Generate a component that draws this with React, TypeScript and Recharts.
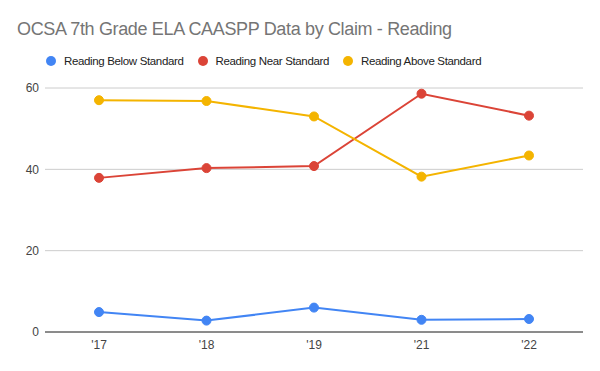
import { LineChart, Line, XAxis, YAxis, CartesianGrid, Legend } from "recharts";

const years = ["'17", "'18", "'19", "'21", "'22"];
const belowStandard = [4.9, 2.8, 6.0, 3.0, 3.2];
const nearStandard = [37.9, 40.3, 40.8, 58.6, 53.2];
const aboveStandard = [57.0, 56.8, 53.0, 38.2, 43.4];
const yTicks = [0, 20, 40, 60];

const series = [
    { key: "below", name: "Reading Below Standard", color: "#4285F4" },
    { key: "near", name: "Reading Near Standard", color: "#DB4437" },
    { key: "above", name: "Reading Above Standard", color: "#F4B400" },
];

const data = years.map((year, i) => ({
    year,
    below: belowStandard[i],
    near: nearStandard[i],
    above: aboveStandard[i],
}));

const font = "Arial, 'Liberation Sans', sans-serif";

function LegendContent() {
    return (
        <div style={{ height: 20, display: "flex", alignItems: "center", paddingLeft: 46, fontFamily: font, fontSize: 11.5, letterSpacing: -0.35, color: "#222" }}>
            {series.map((s) => (
                <div key={s.key} style={{ display: "flex", alignItems: "center", marginRight: 14 }}>
                    <span style={{ width: 10, height: 10, borderRadius: "50%", background: s.color, marginRight: 8, display: "inline-block" }} />
                    <span>{s.name}</span>
                </div>
            ))}
        </div>
    );
}

export default function App() {
    return (
        <div style={{ position: "absolute", left: 0, top: 0, width: 600, height: 371, background: "#fff" }}>
            <div style={{ position: "absolute", left: 17, top: 19, fontFamily: font, fontSize: 18, letterSpacing: -0.35, color: "#757575", whiteSpace: "nowrap" }}>
                OCSA 7th Grade ELA CAASPP Data by Claim - Reading
            </div>
            <LineChart width={600} height={371} data={data} margin={{ top: 68, right: 17, bottom: 9, left: 0 }}>
                <CartesianGrid vertical={false} stroke="#cccccc" />
                <XAxis
                    dataKey="year"
                    height={30}
                    padding={{ left: 54, right: 54 }}
                    axisLine={{ stroke: "#333333" }}
                    tickLine={false}
                    tickSize={6}
                    tickMargin={2}
                    tick={{ fill: "#444", fontSize: 12, fontFamily: font }}
                />
                <YAxis
                    width={45}
                    domain={[0, 60]}
                    ticks={yTicks}
                    axisLine={false}
                    tickLine={false}
                    tickSize={6}
                    tickMargin={0}
                    tick={{ fill: "#444", fontSize: 12, fontFamily: font }}
                />
                <Legend verticalAlign="top" wrapperStyle={{ top: 51, left: 0, width: 600 }} content={<LegendContent />} />
                {series.map((s) => (
                    <Line
                        key={s.key}
                        type="linear"
                        dataKey={s.key}
                        name={s.name}
                        stroke={s.color}
                        strokeWidth={2}
                        dot={{ r: 4.5, fill: s.color, stroke: s.color, strokeWidth: 1 }}
                        activeDot={false}
                        isAnimationActive={false}
                    />
                ))}
            </LineChart>
        </div>
    );
}
